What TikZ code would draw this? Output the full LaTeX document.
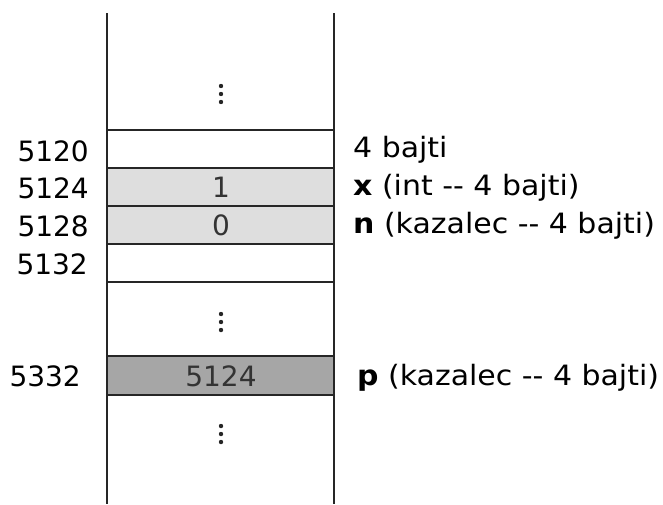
\documentclass[tikz,border=0pt]{standalone}
\usepackage{fontspec}
\setmainfont{DejaVu Sans}
\newfontfamily\descfont[FakeStretch=1.07]{DejaVu Sans}
\begin{document}
\begin{tikzpicture}[x=1pt,y=-1pt,
  wall/.style={line width=2pt,draw=black!85},
  sep/.style={line width=1.5pt,draw=black!85},
  cell/.style={line width=2.5pt,draw=black!85},
  lgrey/.style={fill=black!13},
  dgrey/.style={fill=black!35},
  addr/.style={anchor=east,inner sep=0pt,font=\fontsize{28}{28}\selectfont},
  desc/.style={anchor=west,inner sep=0pt,font=\descfont\fontsize{28}{28}\selectfont},
  val/.style={inner sep=0pt,font=\fontsize{28}{28}\selectfont,text=black!80},
  vdot/.style={fill=black!85,radius=2.2pt}]
\useasboundingbox (0,0) rectangle (663,504);
% memory walls
\draw[wall] (107,13) -- (107,504);
\draw[wall] (334,13) -- (334,504);
% separators
\draw[sep] (107,130) -- (334,130);
\draw[sep] (107,282) -- (334,282);
% x and n cells
\filldraw[cell,lgrey] (107,168) rectangle (334,206);
\filldraw[cell,lgrey] (107,206) rectangle (334,244);
% p cell
\filldraw[cell,dgrey] (107,356) rectangle (334,395);
% vertical dots
\foreach \yy in {86,94,102,314,322,330,426,434,442}
  \fill[vdot] (221,\yy) circle;
% values
\node[val] (v1) at (221,187) {1};
\node[val] (v0) at (221,225) {0};
\node[val] (vp) at (221,376) {5124};
% addresses
\node[addr] (a5120) at (89,151) {5120};
\node[addr] (a5124) at (89,188) {5124};
\node[addr] (a5128) at (89,226) {5128};
\node[addr] (a5132) at (88,264) {5132};
\node[addr] (a5332) at (81,376) {5332};
% descriptions
\node[desc] (d4) at (353,150) {4 bajti};
\node[desc] (dx) at (353,188) {\textbf{x} (int -{}- 4 bajti)};
\node[desc] (dn) at (353,226) {\textbf{n} (kazalec -{}- 4 bajti)};
\node[desc] (dp) at (357,378) {\textbf{p} (kazalec -{}- 4 bajti)};
\end{tikzpicture}
\end{document}
